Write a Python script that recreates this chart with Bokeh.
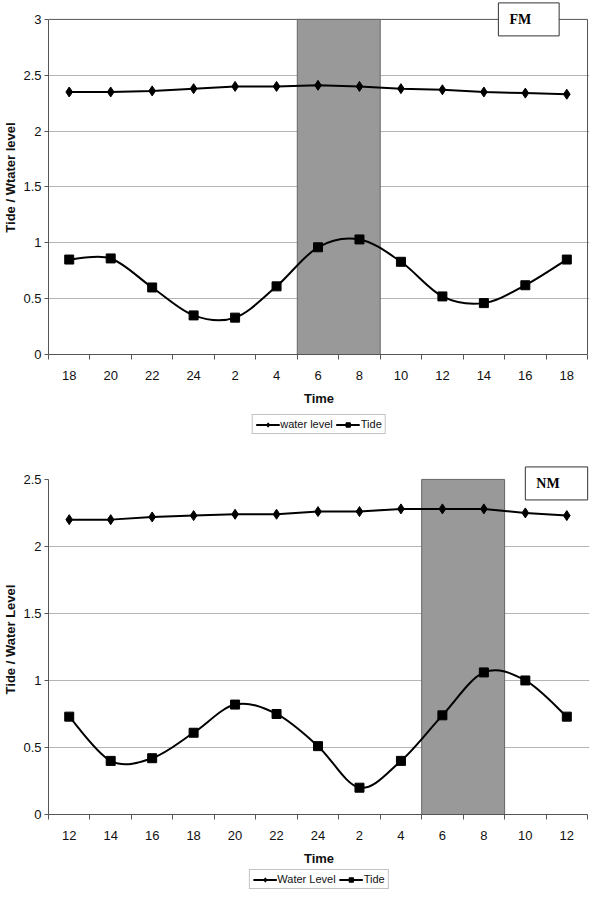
from bokeh.plotting import figure
from bokeh.models import (FixedTicker, NumeralTickFormatter, Legend, LegendItem,
                          Label, ColumnDataSource, Range1d)
from bokeh.layouts import column
from bokeh.embed import file_html
from bokeh.resources import INLINE

# ---------------- data ----------------
fm_times = ["18", "20", "22", "24", "2", "4", "6", "8", "10", "12", "14", "16", "18"]
fm_water = [2.35, 2.35, 2.36, 2.38, 2.40, 2.40, 2.41, 2.40, 2.38, 2.37, 2.35, 2.34, 2.33]
fm_tide = [0.85, 0.86, 0.60, 0.35, 0.33, 0.61, 0.96, 1.03, 0.83, 0.52, 0.46, 0.62, 0.85]
fm_shade = (6, 8)          # category boundaries of the shaded period
fm_yticks = [0, 0.5, 1, 1.5, 2, 2.5, 3]

nm_times = ["12", "14", "16", "18", "20", "22", "24", "2", "4", "6", "8", "10", "12"]
nm_water = [2.20, 2.20, 2.22, 2.23, 2.24, 2.24, 2.26, 2.26, 2.28, 2.28, 2.28, 2.25, 2.23]
nm_tide = [0.73, 0.40, 0.42, 0.61, 0.82, 0.75, 0.51, 0.20, 0.40, 0.74, 1.06, 1.00, 0.73]
nm_shade = (9, 11)
nm_yticks = [0, 0.5, 1, 1.5, 2, 2.5]

FONT = "Liberation Sans"
SERIF = "Liberation Serif"
AX = "#555555"

FRAME_H = 337      # pixel height of the 0..ymax area
PLOT_W = 590


def smooth_ctrl(xs, ys):
    """Catmull-Rom control points (Excel-like smoothed line)."""
    n = len(xs)
    x0, y0, x1, y1, cx0, cy0, cx1, cy1 = [], [], [], [], [], [], [], []
    for i in range(n - 1):
        im1 = max(i - 1, 0)
        ip2 = min(i + 2, n - 1)
        x0.append(xs[i]); y0.append(ys[i])
        x1.append(xs[i + 1]); y1.append(ys[i + 1])
        cx0.append(xs[i] + (xs[i + 1] - xs[im1]) / 6.0)
        cy0.append(ys[i] + (ys[i + 1] - ys[im1]) / 6.0)
        cx1.append(xs[i + 1] - (xs[ip2] - xs[i]) / 6.0)
        cy1.append(ys[i + 1] - (ys[ip2] - ys[i]) / 6.0)
    return dict(x0=x0, y0=y0, x1=x1, y1=y1, cx0=cx0, cy0=cy0, cx1=cx1, cy1=cy1)


def make_panel(times, water, tide, shade, yticks, ylabel, tag, head_px,
               border_top, outline):
    n = len(times)
    xs = [i + 0.5 for i in range(n)]
    ymax = yticks[-1]
    y_end = ymax * (FRAME_H + head_px) / FRAME_H
    x_end = n * 549.0 / 547.0
    height = border_top + FRAME_H + head_px + 52
    p = figure(width=PLOT_W, height=height, output_backend="svg", toolbar_location=None,
               x_range=Range1d(0, x_end), y_range=Range1d(0, y_end),
               min_border_left=8, min_border_right=1, min_border_top=border_top,
               min_border_bottom=52)
    p.background_fill_color = "white"
    p.border_fill_color = "white"
    p.outline_line_color = None

    # grid
    p.xgrid.visible = False
    p.ygrid.ticker = FixedTicker(ticks=yticks[1:-1])
    p.ygrid.grid_line_color = "#b4b4b4"
    p.ygrid.grid_line_width = 1

    # x axis: labels at category centres, tick marks at boundaries
    xa = p.xaxis[0]
    xa.bounds = (0, n)
    xa.ticker = FixedTicker(ticks=xs, minor_ticks=list(range(n + 1)))
    xa.major_label_overrides = {x: t for x, t in zip(xs, times)}
    xa.major_tick_out = 0
    xa.major_tick_in = 0
    xa.minor_tick_out = 5
    xa.minor_tick_in = 0
    xa.minor_tick_line_color = AX
    xa.axis_line_color = AX
    xa.major_label_standoff = 11
    xa.major_label_text_font = FONT
    xa.major_label_text_font_size = "13px"
    xa.major_label_text_color = "#111111"
    xa.axis_label = "Time"
    xa.axis_label_text_font = FONT
    xa.axis_label_text_font_size = "13px"
    xa.axis_label_text_font_style = "bold"
    xa.axis_label_text_color = "#111111"
    xa.axis_label_standoff = 8

    ya = p.yaxis[0]
    ya.bounds = (0, ymax)
    ya.ticker = FixedTicker(ticks=yticks)
    ya.formatter = NumeralTickFormatter(format="0.[0]")
    ya.major_tick_out = 4
    ya.major_tick_in = 0
    ya.minor_tick_out = 0
    ya.major_tick_line_color = AX
    ya.axis_line_color = AX
    ya.major_label_standoff = 3
    ya.major_label_text_font = FONT
    ya.major_label_text_font_size = "13px"
    ya.major_label_text_color = "#111111"
    ya.axis_label = ylabel
    ya.axis_label_text_font = FONT
    ya.axis_label_text_font_size = "13px"
    ya.axis_label_text_font_style = "bold"
    ya.axis_label_text_color = "#111111"
    ya.axis_label_standoff = 2

    # plot-area border (top and right) for the framed panel
    if outline:
        p.segment(x0=[0, n], y0=[ymax, 0], x1=[n, n], y1=[ymax, ymax],
                  line_color=AX, line_width=1)

    # shaded period
    p.quad(left=[shade[0]], right=[shade[1]], bottom=[0], top=[ymax],
           fill_color="#999999", line_color="#666666", line_width=1)

    # water level
    p.line(xs, water, line_color="black", line_width=2)
    p.scatter(xs, water, marker="diamond", size=10, fill_color="black",
              line_color="black")

    # tide (smoothed)
    src = ColumnDataSource(smooth_ctrl(xs, tide))
    p.bezier(x0="x0", y0="y0", x1="x1", y1="y1", cx0="cx0", cy0="cy0",
             cx1="cx1", cy1="cy1", source=src, line_color="black", line_width=2)
    p.scatter(xs, tide, marker="square", size=9, fill_color="black",
              line_color="black")

    # panel tag box
    lab = Label(x=tag[0], y=tag[1], x_units="data", y_units="data", text=tag[2],
                text_font=SERIF, text_font_size="14px", text_font_style="bold",
                text_color="black", text_align="left", text_baseline="middle",
                border_line_color="#333333", border_line_width=1,
                background_fill_color="white",
                padding=dict(left=11, right=28, top=9, bottom=9))
    p.add_layout(lab)
    return p


def make_legend(times, water, tide, water_label, height):
    # legend strip under a panel; its renderers carry the panel's series but are hidden
    xs = [i + 0.5 for i in range(len(times))]
    p = figure(width=PLOT_W, height=height, output_backend="svg", toolbar_location=None,
               x_range=Range1d(0, 1), y_range=Range1d(0, 1),
               min_border_left=40, min_border_right=1, min_border_top=0,
               min_border_bottom=0)
    p.axis.visible = False
    p.grid.visible = False
    p.outline_line_color = None
    wl = p.line(xs, water, line_color="black", line_width=2, visible=False)
    wm = p.scatter(xs, water, marker="diamond", size=9, fill_color="black",
                   line_color="black", visible=False)
    tl = p.line(xs, tide, line_color="black", line_width=2, visible=False)
    tm = p.scatter(xs, tide, marker="square", size=8, fill_color="black",
                   line_color="black", visible=False)
    legend = Legend(items=[LegendItem(label=water_label, renderers=[wl, wm]),
                           LegendItem(label="Tide", renderers=[tl, tm])],
                    orientation="horizontal", location="center")
    legend.label_text_font = FONT
    legend.label_text_font_size = "11px"
    legend.label_text_color = "#111111"
    legend.label_height = 11
    legend.label_standoff = 1
    legend.glyph_height = 11
    legend.glyph_width = 24
    legend.spacing = 3
    legend.padding = 3
    legend.margin = 0
    legend.border_line_color = "#888888"
    legend.border_line_width = 1
    legend.background_fill_color = "white"
    p.add_layout(legend)
    return p


top = make_panel(fm_times, fm_water, fm_tide, fm_shade, fm_yticks,
                 "Tide / Wtater level", (10.85, 3.0, "FM"), head_px=19,
                 border_top=0, outline=True)
top_leg = make_legend(fm_times, fm_water, fm_tide, "water level", 32)
bottom = make_panel(nm_times, nm_water, nm_tide, nm_shade, nm_yticks,
                    "Tide / Water Level", (11.5, 2.47, "NM"), head_px=15,
                    border_top=24, outline=False)
bottom_leg = make_legend(nm_times, nm_water, nm_tide, "Water Level", 22)

layout = column(top, top_leg, bottom, bottom_leg, spacing=0)
open("out.html", "w").write(file_html(layout, INLINE))
